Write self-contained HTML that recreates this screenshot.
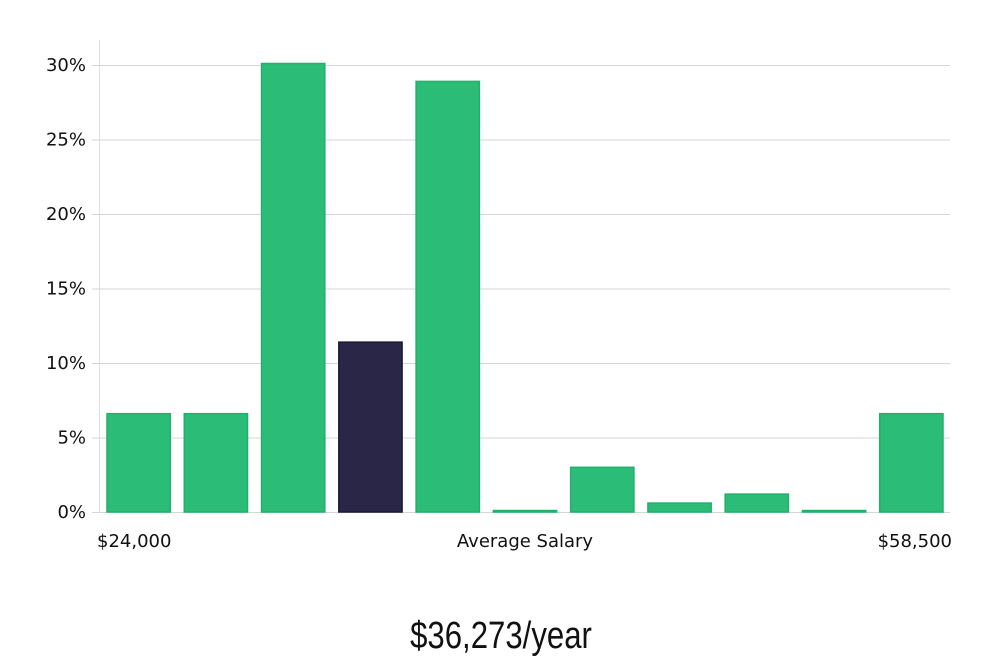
<!DOCTYPE html>
<html><head><meta charset="utf-8"><style>
body{margin:0;background:#fff;width:1000px;height:660px;overflow:hidden}
svg text{font-family:"DejaVu Sans","Liberation Sans",sans-serif}
</style></head><body>
<svg id="chart" width="1000" height="660" xmlns="http://www.w3.org/2000/svg">
<line x1="99.5" y1="40" x2="99.5" y2="512" stroke="#e0e0e0"/>
<g id="grid"></g><g id="bars"></g>
<text x="97" y="547" font-size="18" fill="#111">$24,000</text>
<text x="525" y="547" font-size="18" fill="#111" text-anchor="middle">Average Salary</text>
<text x="952" y="547" font-size="18" fill="#111" text-anchor="end">$58,500</text>
<text x="0" y="0" font-size="38" fill="#111" text-anchor="middle" transform="translate(501,648) scale(0.82,1)" style="font-family:'Liberation Sans',sans-serif">$36,273/year</text>
</svg>
<script>
const categories=["b1","b2","b3","b4","b5","b6","b7","b8","b9","b10","b11"];
const values=[6.6,6.6,30.1,11.4,28.9,0.1,3.0,0.6,1.2,0.1,6.6];
const highlightIndex=[3];
const yTicks=[0,5,10,15,20,25,30];
const yTickLabels=["0%","5%","10%","15%","20%","25%","30%"];
const ns="http://www.w3.org/2000/svg";
const x0=100,x1=950,y0=512,yTop=65,yMaxVal=30;
const y=v=>y0-(v/yMaxVal)*(y0-yTop);
const band=(x1-x0)/categories.length;
const grid=document.getElementById('grid'),bars=document.getElementById('bars');
yTicks.forEach((t,i)=>{
 const l=document.createElementNS(ns,'line');
 
 
 l.setAttribute('x1',x0-8);l.setAttribute('x2',x1);l.setAttribute('y1',y(t)+0.5);l.setAttribute('y2',y(t)+0.5);
 l.setAttribute('stroke','#d6d6d6');grid.appendChild(l);
 const tx=document.createElementNS(ns,'text');
 
 
 tx.setAttribute('x',86);tx.setAttribute('y',y(t)+6);tx.setAttribute('text-anchor','end');
 tx.setAttribute('font-size','18');tx.setAttribute('fill','#111');tx.textContent=yTickLabels[i];grid.appendChild(tx);
});
values.forEach((v,i)=>{
 const r=document.createElementNS(ns,'rect');
 
 
 const hi=highlightIndex.includes(i);
 const bx=x0+i*band+7,bw=band-14,top=y(v);
 r.setAttribute('x',bx);r.setAttribute('y',top);r.setAttribute('width',bw);r.setAttribute('height',Math.max(1,y0-top));
 r.setAttribute('fill',hi?'#2a2647':'#2bbd77');
 r.setAttribute('stroke',hi?'#1c1838':'#22b06c');r.setAttribute('stroke-width','1.5');
 bars.appendChild(r);
});
</script>
</body></html>
